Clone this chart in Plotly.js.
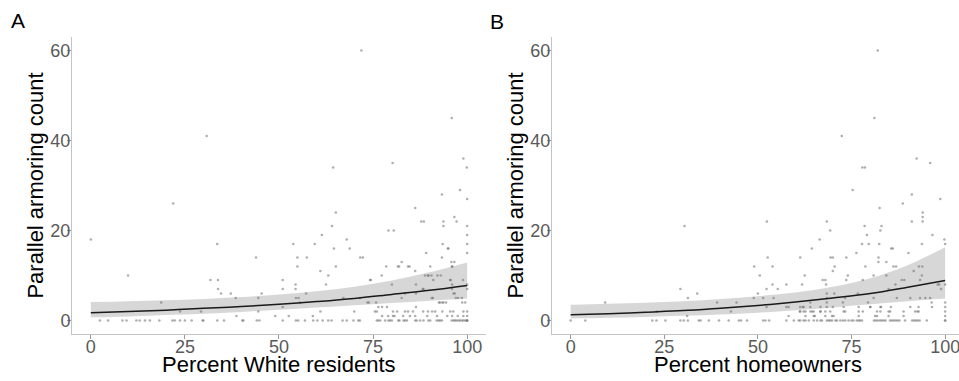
<!DOCTYPE html>
<html>
<head>
<meta charset="utf-8">
<script src="https://cdn.plot.ly/plotly-3.0.1.min.js"></script>
<style>html,body{margin:0;padding:0;background:#fff;}#chart{width:959px;height:381px;}</style>
</head>
<body>
<div id="chart"></div>
<script>
// ---------- Panel A: Percent White residents ----------
const aPointX = [0,9.9,18.7,21.9,23.7,29.3,30.8,31.8,33.6,33.8,33.8,34.6,37.2,38.5,38.7,43.9,44.5,44.5,45.4,49,51,51,51,52.6,53.8,54.5,55.2,54.4,54.4,54.9,54.9,57.4,57.2,55.6,59.5,59,61,61.4,61,62.5,63.1,64.1,64.4,64.6,65.1,65.1,68,68.8,67.1,70,71.9,71.6,72.3,71.5,73.9,74.2,76,77.3,78.5,79.1,80.5,80.2,80,81.9,82.6,80.7,83.5,84.7,86.2,86.4,86.4,87.8,88.5,88.4,89.1,89.6,90.5,90.2,91,90.9,93.3,93.3,93.5,93.7,93.7,92.8,93.7,95,95.9,96,95.8,95.5,96,96.4,96.6,97.2,98.1,99,99.9,100,100,100,100,100,99.5,100,100,98.6,97,97.5,
  76.4,77.4,78.7,75.5,80.3,81.4,84.3,85.6,88.3,89.6,90.7,91.5,93.4,95.5,96.3,99,100,77.4,79,80.3,83,84.8,86.2,89.4,92,94.7,96,99,100,
  94.9,81.6,84.3,86.2,96.6,96,88.8,89.7,92.1,93,74.4,95.6,96,98.9,88.2,86.4,90.6,96.7,97.6,98.7,92.5,93.4,94.4,83.5,82.6,73.5,75.8];
const aPointY = [18,10,4,26,2,2,41,9,17,9,7,6,6,5,1,14,5,2,6,1,9,7,3,1,17,5,5,8,7,14,12,14,6,4,17,1,11,19,2,8,10,21,34,16,12,24,18,16,5,2,60,14,14,5,4,9,2,10,12,20,20,35,8,12,13,1,2,12,25,8,3,22,22,7,15,10,10,12,9,5,28,14,17,22,21,4,4,16,45,12,13,9,7,6,23,22,29,36,34,27,21,19,17,15,4,8,7,5,5,1,
  3,3,3,2,2,2,2,2,2,2,2,2,2,2,2,2,2,1,1,1,1,1,1,1,1,1,1,1,1,
  16,12,12,11,13,12,10,10,10,10,9,9,8,9,7,6,5,6,5,4,4,4,4,6,5,4,4];
const aZeroX = [2.4,4.6,8.4,9.5,12.1,13,14.4,15.7,18.2,21.7,22.3,23.7,25,26.8,29.7,29.9,33.6,35.4,40.3,40.5,44.1,44.8,51,54.5,55.1,56.9,59.1,60.2,61.6,63.1,64,66.9,68,69.8,71.1,71.5,76,76.4,76.9,78.2,79.1,79.5,80,81.7,82,83.1,83.5,84,86.2,86.6,87.5,88.4,89.7,90.2,91.9,92.4,92.8,93.3,95.9,96.4,96.8,97.2,97.7,98.1,98.6,99,99.5,99.9,100,100];
const aCurveX = [0,10,20,30,40,50,60,70,80,90,100];
const aFit   = [1.7,2.0,2.3,2.7,3.1,3.6,4.2,4.9,5.8,6.7,7.8];
const aUpper = [4.1,4.3,4.5,4.8,5.2,5.8,6.5,7.5,8.9,10.7,12.9];
const aLower = [0.7,0.9,1.2,1.5,1.9,2.4,2.9,3.4,3.9,4.4,4.9];

// ---------- Panel B: Percent homeowners ----------
const bPointX = [9.2,23,29.3,30.4,31.3,31.1,33.8,39.1,42.8,44.3,48.9,49,50,50.5,51.4,52.4,52.6,52.3,52.3,53.9,53.9,54.2,55.3,57.6,57.6,58.2,58.2,61.3,61.2,61.8,62.5,62,62.7,64,64.4,64.9,65.2,66.5,66.7,67.3,68,68.2,68.4,68.4,68.4,68.4,69.4,70,69.3,70,70.2,70.5,70,70.4,72.4,72.7,72.9,72.9,73.3,73.6,74,73.6,75.3,76.3,76.7,77.9,78.6,77.8,78,78,78.5,78.7,79.1,79.6,79.4,80,81.1,80.9,80.9,81.3,82,82.2,82.2,82.4,82.5,82.7,83,82.7,82.7,84.3,84.3,84.9,85.3,85.6,86,86.2,86.9,86.7,87.1,88.4,89.1,88.7,90.2,90.7,91.1,91.1,91.6,92,92.6,92.4,93,93.9,93.3,93.3,93.8,93.8,94,94,94,94.7,96,96,96.4,96.6,98,98.4,98.7,98.9,99.8,100,100,100,100,100,
  76.9,80,82.9,85.5,90.7,92.9,96.5,100,73.3,76.9,81.8,84.9,88.9,92.9,61.3,62.2,64,64.5,66.7,68,69.3,61.3,62.2,64,66.7,68.4,62.7,64.9,68,69.8,76.9,81.8,84.9,88.9];
const bPointY = [4,2,7,21,5,1,6,4,2,4,5,12,6,10,5,22,14,7,3,12,8,5,7,8,3,3,1,14,2,8,10,3,2,4,16,2,1,18,2,9,9,8,6,5,4,22,14,14,20,3,1,12,11,6,41,4,3,2,5,14,10,9,29,15,6,34,34,17,9,2,21,12,19,17,4,3,45,10,5,1,60,14,13,17,25,20,21,2,3,13,10,7,2,16,16,12,12,8,5,9,9,26,15,5,28,22,11,2,2,36,12,12,9,5,10,17,23,24,22,5,35,5,4,19,8,8,27,7,18,17,8,4,2,1,
  3,3,3,3,3,3,3,3,2,2,2,2,2,2,2,2,2,2,2,2,2,3,3,3,3,3,1,1,1,1,1,1,1,1];
const bZeroX = [0,3.9,21.8,22.9,25.3,29.3,30.2,31.3,34.2,34.7,36.9,39.6,42.2,44.9,45.5,47.1,51.4,52,53,57.6,59.6,60.9,61.3,62.2,62.7,63.6,64.9,65.8,66.7,67.1,68.4,68.9,69.3,69.8,70.7,71.1,72,72.7,73.3,74.2,75,75.5,76.4,76.9,77.3,77.8,81,81.5,82,82.6,83.1,83.6,84.1,85.3,85.8,86.3,86.8,87.3,87.8,89.3,91.2,91.7,92.2,92.7,93.2,95.1,100,100];
const bCurveX = [0,10,20,30,40,50,60,70,80,90,100];
const bFit   = [1.26,1.5,1.85,2.2,2.75,3.35,4.1,5.0,6.0,7.4,8.9];
const bUpper = [3.5,3.7,3.95,4.3,4.8,5.4,6.2,7.5,9.4,12.3,16.3];
const bLower = [0.45,0.6,0.8,1.05,1.35,1.75,2.3,2.9,3.6,4.3,4.9];

const xTitleA = 'Percent White residents';
const xTitleB = 'Percent homeowners';
const yTitle = 'Parallel armoring count';
const panelLabels = ['A', 'B'];
const tickVals = [0,25,50,75,100];
const yTickVals = [0,20,40,60];

const FONT = 'Liberation Sans, Arial, Helvetica, sans-serif';
const pointStyle = {size: 2.6, color: 'rgba(110,110,110,0.55)'};

function panel(px, py, zx, cx, fit, up, lo, xa, ya) {
  const allX = px.concat(zx);
  const allY = py.concat(zx.map(() => 0));
  return [
    {x: cx, y: up, xaxis: xa, yaxis: ya, mode: 'lines', line: {width: 0, shape: 'spline'}, hoverinfo: 'skip', showlegend: false},
    {x: cx, y: lo, xaxis: xa, yaxis: ya, mode: 'lines', line: {width: 0, shape: 'spline'}, fill: 'tonexty', fillcolor: 'rgba(150,150,150,0.38)', hoverinfo: 'skip', showlegend: false},
    {x: allX, y: allY, xaxis: xa, yaxis: ya, mode: 'markers', type: 'scatter', marker: pointStyle, showlegend: false},
    {x: cx, y: fit, xaxis: xa, yaxis: ya, mode: 'lines', line: {color: '#1a1a1a', width: 1.5, shape: 'spline'}, showlegend: false}
  ];
}

const data = [].concat(
  panel(aPointX, aPointY, aZeroX, aCurveX, aFit, aUpper, aLower, 'x', 'y'),
  panel(bPointX, bPointY, bZeroX, bCurveX, bFit, bUpper, bLower, 'x2', 'y2')
);

const xCommon = {
  showgrid: false, zeroline: false, showline: true, linecolor: '#c4c4c4', linewidth: 1,
  ticks: 'outside', ticklen: 4, tickcolor: '#9a9a9a', tickwidth: 1,
  tickvals: tickVals, tickfont: {family: FONT, size: 18, color: '#5a5a5a'},
  ticklabelstandoff: -8, ticklabeloverflow: 'allow'
};
const yCommon = {
  showgrid: false, zeroline: false, showline: true, linecolor: '#c4c4c4', linewidth: 1,
  ticks: 'outside', ticklen: 4, tickcolor: '#9a9a9a', tickwidth: 1,
  tickvals: yTickVals, tickfont: {family: FONT, size: 18, color: '#5a5a5a'},
  range: [-3, 63], ticklabelstandoff: -7,
  title: {text: yTitle, font: {family: FONT, size: 22, color: '#000'}, standoff: 0}
};

const xTitleFont = {family: FONT, size: 22, color: '#000'};

const layout = {
  width: 959, height: 381,
  margin: {l: 72, r: 0, t: 37, b: 47},
  paper_bgcolor: '#fff', plot_bgcolor: '#fff',
  font: {family: FONT},
  xaxis: Object.assign({}, xCommon, {domain: [0, 0.4667], range: [-5, 105], anchor: 'y'}),
  yaxis: Object.assign({}, yCommon, {domain: [0, 1], anchor: 'x'}),
  xaxis2: Object.assign({}, xCommon, {domain: [0.5411, 1], range: [-5, 103.7], anchor: 'y2'}),
  yaxis2: Object.assign({}, yCommon, {domain: [0, 1], anchor: 'x2'}),
  annotations: [
    {text: xTitleA, xref: 'paper', yref: 'paper', x: 0.2334, y: -0.103, xanchor: 'center', yanchor: 'middle', showarrow: false, font: xTitleFont},
    {text: xTitleB, xref: 'paper', yref: 'paper', x: 0.7729, y: -0.103, xanchor: 'center', yanchor: 'middle', showarrow: false, font: xTitleFont},
    {text: panelLabels[0], xref: 'paper', yref: 'paper', x: -0.0606, y: 1.055, xanchor: 'center', yanchor: 'middle', showarrow: false, font: {family: FONT, size: 21, color: '#000'}},
    {text: panelLabels[1], xref: 'paper', yref: 'paper', x: 0.4786, y: 1.052, xanchor: 'center', yanchor: 'middle', showarrow: false, font: {family: FONT, size: 21, color: '#000'}}
  ]
};

Plotly.newPlot('chart', data, layout, {displayModeBar: false, staticPlot: true});
</script>
</body>
</html>
